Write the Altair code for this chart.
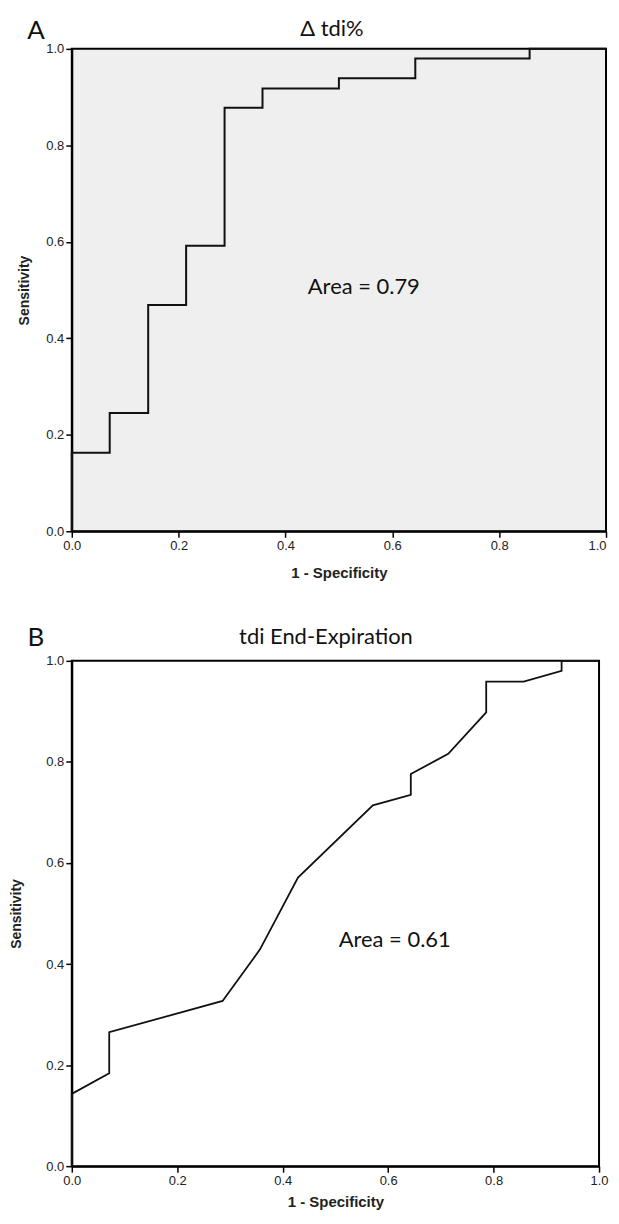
import altair as alt
import pandas as pd

# ---- data ----
a_fpr = [0.0, 0.0, 0.071, 0.071, 0.143, 0.143, 0.214, 0.214, 0.286, 0.286,
         0.357, 0.357, 0.5, 0.5, 0.643, 0.643, 0.857, 0.857, 1.0]
a_tpr = [0.0, 0.163, 0.163, 0.245, 0.245, 0.469, 0.469, 0.592, 0.592, 0.878,
         0.878, 0.918, 0.918, 0.939, 0.939, 0.980, 0.980, 1.0, 1.0]

b_fpr = [0.0, 0.0, 0.071, 0.071, 0.286, 0.357, 0.429, 0.571, 0.643, 0.643,
         0.714, 0.786, 0.786, 0.857, 0.929, 0.929, 1.0]
b_tpr = [0.0, 0.143, 0.184, 0.265, 0.327, 0.429, 0.571, 0.714, 0.735, 0.776,
         0.816, 0.898, 0.959, 0.959, 0.980, 1.0, 1.0]

tick_values = [0.0, 0.2, 0.4, 0.6, 0.8, 1.0]

a_letter, a_title, a_area = "A", "Δ tdi%", "Area = 0.79"
b_letter, b_title, b_area = "B", "tdi End-Expiration", "Area = 0.61"
x_title, y_title = "1 - Specificity", "Sensitivity"

TEXT_FONT = "Lato"
AXIS_FONT = "Liberation Sans"


def panel(fpr, tpr, letter, title, area, w, h, fill, tick, ytp, xtp,
          letter_xy, title_xy, area_xy, lw, last_align):
    df = pd.DataFrame({"fpr": fpr, "tpr": tpr, "i": list(range(len(fpr)))})
    xaxis = alt.Axis(values=tick_values, format=".1f", grid=False,
                     tickSize=tick, tickColor="black", tickWidth=1.5,
                     domainColor="black", domainWidth=2,
                     labelFont=AXIS_FONT, labelFontSize=13, labelColor="#222",
                     labelPadding=2, labelFlush=False,
                     labelAlign={"condition": {"test": "datum.value == 1",
                                               "value": last_align},
                                 "value": "center"},
                     title=x_title, titleFont=AXIS_FONT, titleFontSize=15,
                     titleFontWeight="bold", titleColor="#222", titlePadding=xtp)
    yaxis = alt.Axis(values=tick_values, format=".1f", grid=False,
                     tickSize=tick, tickColor="black", tickWidth=1.5,
                     domainColor="black", domainWidth=2,
                     labelFont=AXIS_FONT, labelFontSize=13, labelColor="#222",
                     labelPadding=2, labelFlush=False,
                     title=y_title, titleFont=AXIS_FONT, titleFontSize=14,
                     titleFontWeight="bold", titleColor="#222", titlePadding=ytp)
    line = alt.Chart(df).mark_line(color="#111", strokeWidth=lw).encode(
        x=alt.X("fpr:Q", scale=alt.Scale(domain=[0, 1], nice=False), axis=xaxis),
        y=alt.Y("tpr:Q", scale=alt.Scale(domain=[0, 1], nice=False), axis=yaxis),
        order="i:Q",
    )

    def txt(s, xy, size):
        return alt.Chart(pd.DataFrame({"t": [s]})).mark_text(
            font=TEXT_FONT, fontSize=size, color="#111", align="center",
            baseline="alphabetic"
        ).encode(text="t:N", x=alt.value(xy[0]), y=alt.value(xy[1]))

    return alt.layer(
        line,
        txt(letter, letter_xy, 26),
        txt(title, title_xy, 22),
        txt(area, area_xy, 22),
    ).properties(
        width=w, height=h,
        view=alt.ViewBackground(fill=fill, stroke="black", strokeWidth=2),
    )


pa = panel(a_fpr, a_tpr, a_letter, a_title, a_area, 536, 484, "#efefef",
           6, 14, 13, (-36, -9.5), (261, -12.5), (293, 246), 2, "right")
pb = panel(b_fpr, b_tpr, b_letter, b_title, b_area, 529, 507, "white",
           6, 22, 7, (-36, -15), (255, -17), (324, 287), 1.8, "center")

chart = alt.vconcat(pa, pb, spacing=43).properties(
    padding={"left": 0, "top": 7, "right": 0, "bottom": 0},
    background="white",
)

chart.save("out.html", embed_options={"renderer": "svg", "actions": False})
